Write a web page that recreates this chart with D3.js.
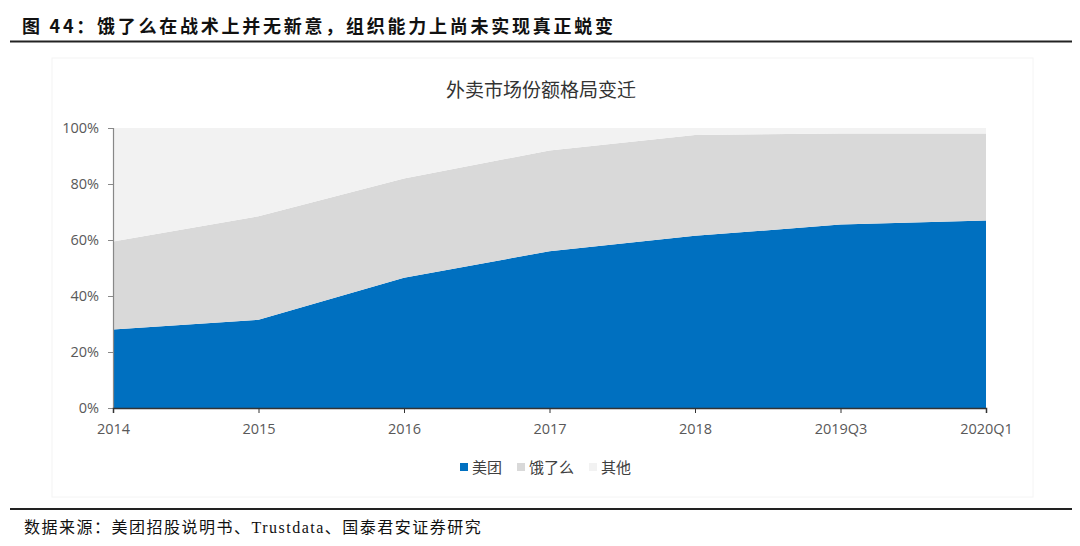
<!DOCTYPE html>
<html>
<head>
<meta charset="utf-8">
<script src="https://cdn.jsdelivr.net/npm/d3@7"></script>
<style>
  body { margin: 0; background: #fff; }
  svg { display: block; }
</style>
</head>
<body>
<div id="chart"></div>
<script>
// data (share, %)
var categories = ['2014', '2015', '2016', '2017', '2018', '2019Q3', '2020Q1'];
var meituan = [28, 31.5, 46.5, 56, 61.5, 65.5, 67];
var eleme = [31.5, 37, 35.5, 36, 36, 32.5, 31];
var others = [40.5, 31.5, 18, 8, 2.5, 2, 2];
var seriesNames = ['美团', '饿了么', '其他'];
var yTicks = [0, 20, 40, 60, 80, 100];

var colors = ['#0070C0', '#D9D9D9', '#F2F2F2'];
var cjk = '"Noto Sans CJK SC", "Noto Sans", sans-serif';
var latin = '"Open Sans", "Noto Sans", sans-serif';

var W = 1080, H = 546;
var svg = d3.select('#chart').append('svg')
    .attr('width', W)
    .attr('height', H);

// page header
svg.append('text')
    .attr('x', 22)
    .attr('y', 33)
    .attr('font-family', cjk)
    .attr('font-weight', 'bold')
    .attr('font-size', 18)
    .attr('letter-spacing', 2.75)
    .attr('fill', '#111')
    .text('图 44：饿了么在战术上并无新意，组织能力上尚未实现真正蜕变');

svg.append('line')
    .attr('x1', 10).attr('x2', 1072)
    .attr('y1', 41.5).attr('y2', 41.5)
    .attr('stroke', '#222')
    .attr('stroke-width', 2);

// faint chart panel
svg.append('rect')
    .attr('x', 52).attr('y', 58)
    .attr('width', 981).attr('height', 439)
    .attr('fill', '#fff')
    .attr('stroke', '#f4f4f4');

svg.append('text')
    .attr('x', 541)
    .attr('y', 97)
    .attr('text-anchor', 'middle')
    .attr('font-family', cjk)
    .attr('font-size', 19)
    .attr('fill', '#333')
    .text('外卖市场份额格局变迁');

var margin = { left: 113, right: 94, top: 128, bottom: 138 };
var x = d3.scalePoint()
    .domain(categories)
    .range([margin.left, W - margin.right]);
var y = d3.scaleLinear()
    .domain([0, 100])
    .range([H - margin.bottom, margin.top]);

var rows = categories.map(function(c, i) {
  return { cat: c, '美团': meituan[i], '饿了么': eleme[i], '其他': others[i] };
});

var stacked = d3.stack().keys(seriesNames)(rows);

var area = d3.area()
    .x(function(d) { return x(d.data.cat); })
    .y0(function(d) { return y(d[0]); })
    .y1(function(d) { return y(d[1]); });

svg.selectAll('path.layer')
    .data(stacked)
    .enter()
    .append('path')
    .attr('class', 'layer')
    .attr('d', area)
    .attr('fill', function(d, i) { return colors[i]; });

// y axis
var yAxis = svg.append('g')
    .attr('transform', 'translate(' + margin.left + ',0)')
    .call(d3.axisLeft(y)
      .tickValues(yTicks)
      .tickSize(5)
      .tickPadding(9)
      .tickFormat(function(d) { return d + '%'; }));

yAxis.select('.domain').attr('stroke', '#888').attr('stroke-width', 1.2);
yAxis.selectAll('.tick line').attr('stroke', '#888');
yAxis.selectAll('text')
    .attr('font-family', latin)
    .attr('font-size', 14.5)
    .attr('fill', '#595959');

// x axis
var xAxis = svg.append('g')
    .attr('transform', 'translate(0,' + (H - margin.bottom) + ')')
    .call(d3.axisBottom(x).tickSize(5).tickPadding(11));

xAxis.select('.domain').attr('stroke', '#333').attr('stroke-width', 1.5);
xAxis.selectAll('.tick line').attr('stroke', '#333');
xAxis.selectAll('text')
    .attr('font-family', latin)
    .attr('font-size', 14.5)
    .attr('fill', '#595959');

// legend
var legendX = [460, 517, 589];
var legend = svg.selectAll('g.legend')
    .data(seriesNames)
    .enter()
    .append('g')
    .attr('class', 'legend')
    .attr('transform', function(d, i) {
      return 'translate(' + legendX[i] + ',467)';
    });

legend.append('rect')
    .attr('x', 0).attr('y', -4)
    .attr('width', 8).attr('height', 8)
    .attr('fill', function(d, i) { return colors[i]; });

legend.append('text')
    .attr('x', 12)
    .attr('y', 5.5)
    .attr('font-family', cjk)
    .attr('font-size', 15)
    .attr('fill', '#404040')
    .text(function(d) { return d; });

// footer
svg.append('line')
    .attr('x1', 10).attr('x2', 1072)
    .attr('y1', 509).attr('y2', 509)
    .attr('stroke', '#222')
    .attr('stroke-width', 2);

svg.append('text')
    .attr('x', 24)
    .attr('y', 533)
    .attr('font-family', '"Liberation Serif", "Noto Sans CJK SC", serif')
    .attr('font-size', 16)
    .attr('letter-spacing', 1.5)
    .attr('fill', '#111')
    .text('数据来源：美团招股说明书、Trustdata、国泰君安证券研究');
</script>
</body>
</html>
